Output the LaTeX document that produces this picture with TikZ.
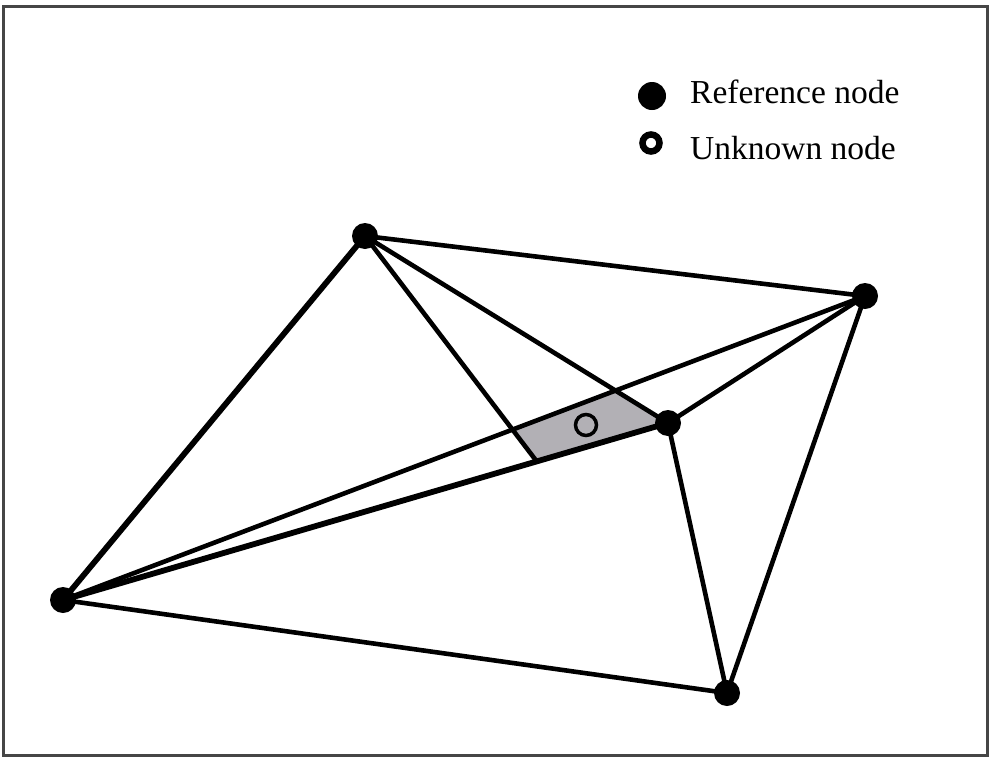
\documentclass[tikz,border=0pt]{standalone}
\usepackage{fontspec}
\setmainfont{Liberation Serif}
\usetikzlibrary{intersections,calc}
\definecolor{quadshade}{RGB}{178,176,181}
\definecolor{framegray}{RGB}{70,70,70}
\begin{document}
\begin{tikzpicture}[x=1pt,y=-1pt,
  edge/.style={line width=4.6pt, line cap=round},
  thickedge/.style={line width=5.8pt, line cap=round},
  refnode/.style={circle, fill=black, inner sep=0pt, minimum size=26pt},
  unknode/.style={circle, draw=black, line width=3.5pt, inner sep=0pt, minimum size=21pt},
  legref/.style={circle, fill=black, inner sep=0pt, minimum size=28pt},
  legunk/.style={circle, draw=black, line width=6.5pt, inner sep=0pt, minimum size=17pt},
  legtext/.style={anchor=base west, inner sep=0pt, font=\fontsize{33.5}{38}\selectfont}]
\useasboundingbox (0,0) rectangle (989,758);
\draw[framegray, line width=3pt] (3,6) rectangle (987,755);
\coordinate (A) at (365,236);
\coordinate (B) at (865,296);
\coordinate (C) at (668,423);
\coordinate (D) at (63,600);
\coordinate (E) at (727,693);
\coordinate (P) at ($(D)!0.783!(C)$);
\path[name path=db] (D) -- (B);
\path[name path=ap] (A) -- (P);
\path[name path=ac] (A) -- (C);
\path[name intersections={of=db and ap, by=Q1}];
\path[name intersections={of=db and ac, by=Q2}];
\fill[quadshade] (Q1) -- (P) -- (C) -- (Q2) -- cycle;
\draw[edge] (A) -- (B);
\draw[thickedge] (A) -- (D);
\draw[edge] (A) -- (C);
\draw[edge] (A) -- (P);
\draw[edge] (B) -- (D);
\draw[edge] (B) -- (C);
\draw[edge] (B) -- (E);
\draw[thickedge] (D) -- (C);
\draw[edge] (D) -- (E);
\draw[edge] (C) -- (E);
\node[refnode] (An) at (A) {};
\node[refnode] (Bn) at (B) {};
\node[refnode] (Cn) at (C) {};
\node[refnode] (Dn) at (D) {};
\node[refnode] (En) at (E) {};
\node[unknode] (U) at (586,425) {};
\node[legref] (L1) at (652,96) {};
\node[legunk] (L2) at (651,143) {};
\node[legtext] (T1) at (690,103) {Reference node};
\node[legtext] (T2) at (690,159) {Unknown node};
\end{tikzpicture}
\end{document}
